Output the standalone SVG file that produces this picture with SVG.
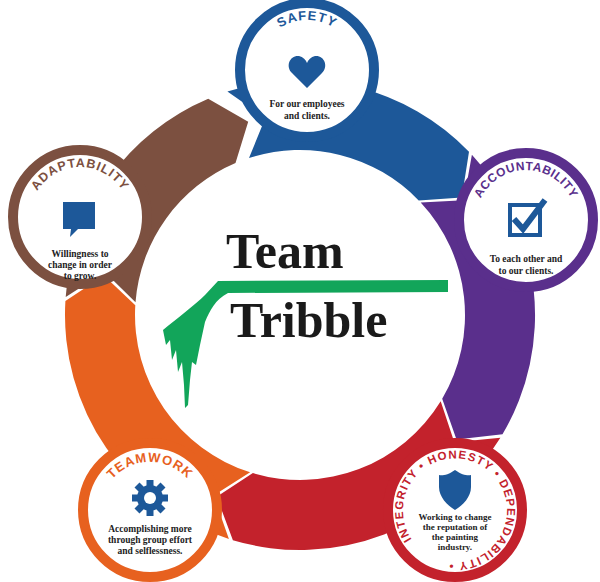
<svg xmlns="http://www.w3.org/2000/svg" width="600" height="582" viewBox="0 0 600 582">
<style>
.lbl{font-family:"Liberation Sans",Arial,sans-serif;font-weight:bold;font-size:13px;letter-spacing:1px}
.body{font-family:"Liberation Serif","Times New Roman",serif;font-weight:bold;font-size:9.5px;fill:#222;text-anchor:middle}
.ring{fill:#fff;stroke-width:10}
.big{font-family:"Liberation Serif","Times New Roman",serif;font-weight:bold;font-size:50px;fill:#1a1a1a}
</style>
<defs>
<path id="pS" d="M257,70 A50,50 0 0 1 357,70"/>
<path id="pA" d="M476,220 A50,50 0 0 1 576,220"/>
<path id="pT" d="M100,512 A50,50 0 0 1 200,512"/>
<path id="pD" d="M30,217 A50,50 0 0 1 130,217"/>
<path id="pH" d="M418,547 A52,52 0 1 1 492,547 A52,52 0 0 1 418,547"/>
</defs>
<rect width="600" height="582" fill="#fff"/>
<g id="connectors">
<path fill="#1d5899" d="M227.4,91.5 A235,235 0 0 1 469,151.7 L461.8,197.4 L418.7,200.4 A165,165 0 0 0 249,158.1 L265.3,118 Z"/>
<path fill="#5a2f8c" d="M471.9,154.7 A235,235 0 0 1 502.5,434.3 L456.5,439.5 L442.2,398.7 A165,165 0 0 0 420.7,202.5 L463.8,200.3 Z"/>
<path fill="#c3222c" d="M500.4,437.8 A235,235 0 0 1 232.9,540.2 L216.7,496.8 L252.9,473.1 A165,165 0 0 0 440.7,401.2 L454.3,442.2 Z"/>
<path fill="#e7611f" d="M228.9,539 A235,235 0 0 1 65.4,301.1 L103.9,275.5 L135.3,305.2 A165,165 0 0 0 250.1,472.3 L213.6,495.4 Z"/>
<path fill="#7c5040" d="M65.7,297 A235,235 0 0 1 208.2,98.7 L248.2,121.8 L235.5,163.1 A165,165 0 0 0 135.5,302.3 L104.7,272.1 Z"/>
</g>
<g id="center">
<text class="big" x="226" y="268">Team</text>
<text class="big" x="230" y="337">Tribble</text>
<path fill="#12a55a" d="M218,281 L448,280 L448,292 L228,293 C215,300 210,310 205,322 L200,345 L196,365 L192,362 L190,380 L188,405 L185,408 L184,385 L182,362 L178,372 L176,350 L172,360 L170,340 L166,345 L163,330 C175,320 195,305 205,295 Z"/>
</g>
<g id="safety">
<circle class="ring" cx="307" cy="70" r="67" stroke="#1d5899"/>
<text class="lbl" fill="#1d5899"><textPath href="#pS" startOffset="50%" text-anchor="middle">SAFETY</textPath></text>
<path fill="#1d5899" d="M307,88 L292,73 C285,66 290,55 299,56 C303,57 306,60 307,63 C308,60 311,57 315,56 C324,55 329,66 322,73 Z"/>
<text class="body" x="307" y="107">For our employees</text>
<text class="body" x="307" y="119">and clients.</text>
</g>
<g id="accountability">
<circle class="ring" cx="526" cy="220" r="67" stroke="#5a2f8c"/>
<text class="lbl" fill="#5a2f8c" style="font-size:12px;letter-spacing:0.5px"><textPath href="#pA" startOffset="50%" text-anchor="middle">ACCOUNTABILITY</textPath></text>
<rect x="510" y="205" width="30" height="30" fill="none" stroke="#1d5899" stroke-width="4"/>
<path d="M514,219 L523,229 L545,200" fill="none" stroke="#1d5899" stroke-width="6"/>
<text class="body" x="526" y="262">To each other and</text>
<text class="body" x="526" y="274">to our clients.</text>
</g>
<g id="honesty">
<circle class="ring" cx="455" cy="510" r="67" stroke="#c3222c"/>
<text class="lbl" fill="#c3222c" style="font-size:11.5px;letter-spacing:1.2px"><textPath href="#pH" startOffset="3%">INTEGRITY  •  HONESTY  •  DEPENDABILITY  •</textPath></text>
<path fill="#1d5899" d="M455,470 C462,475 468,476 471,475 L471,487 C471,497 463,505 455,510 C447,505 439,497 439,487 L439,475 C442,476 448,475 455,470 Z"/>
<text class="body" x="455" y="520" style="font-size:9px">Working to change</text>
<text class="body" x="455" y="530" style="font-size:9px">the reputation of</text>
<text class="body" x="455" y="540" style="font-size:9px">the painting</text>
<text class="body" x="455" y="550" style="font-size:9px">industry.</text>
</g>
<g id="teamwork">
<circle class="ring" cx="150" cy="510" r="67" stroke="#e7611f"/>
<text class="lbl" fill="#e7611f"><textPath href="#pT" startOffset="50%" text-anchor="middle">TEAMWORK</textPath></text>
<g fill="#1d5899">
<circle cx="150" cy="498" r="13"/>
<g stroke="#1d5899" stroke-width="7">
<line x1="150" y1="480" x2="150" y2="516"/><line x1="132" y1="498" x2="168" y2="498"/>
<line x1="137" y1="485" x2="163" y2="511"/><line x1="163" y1="485" x2="137" y2="511"/>
</g>
<circle cx="150" cy="498" r="6" fill="#fff"/>
</g>
<text class="body" x="150" y="532">Accomplishing more</text>
<text class="body" x="150" y="543">through group effort</text>
<text class="body" x="150" y="554">and selflessness.</text>
</g>
<g id="adaptability">
<circle class="ring" cx="80" cy="217" r="67" stroke="#7c5040"/>
<text class="lbl" fill="#7c5040" style="font-size:12.5px"><textPath href="#pD" startOffset="50%" text-anchor="middle">ADAPTABILITY</textPath></text>
<path fill="#1d5899" d="M63,202 H95 V229 H78 L70,237 L71,229 H63 Z"/>
<text class="body" x="80" y="257">Willingness to</text>
<text class="body" x="80" y="268">change in order</text>
<text class="body" x="80" y="279">to grow.</text>
</g>
</svg>
